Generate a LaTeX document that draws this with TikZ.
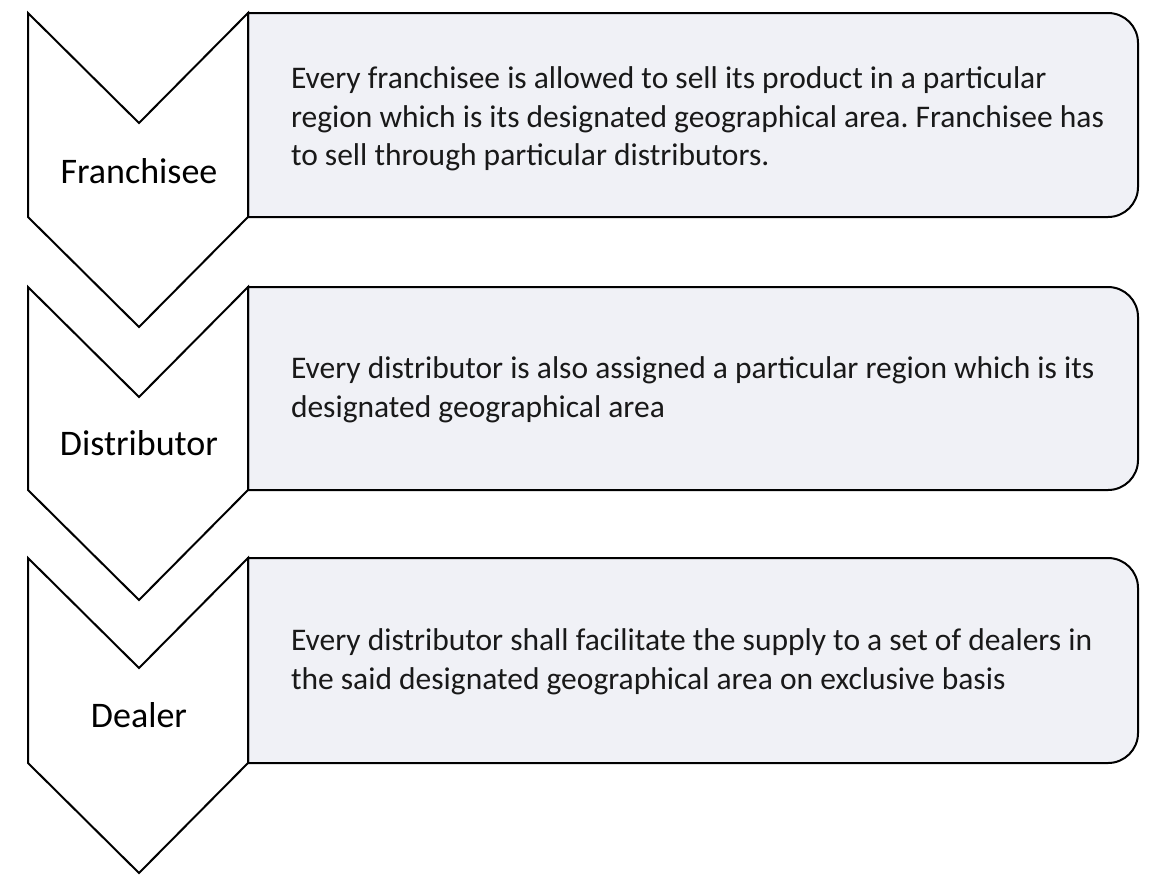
\documentclass[tikz,border=0pt]{standalone}
\usepackage{fontspec}
\setmainfont{Carlito}
\frenchspacing
\tikzset{every picture/.style={line width=2pt}}
\tikzset{
	chevron/.style={draw={rgb, 255:red, 0; green, 0; blue, 0 }, fill=white, line join=miter},
	infobox/.style={draw={rgb, 255:red, 0; green, 0; blue, 0 }, fill={rgb, 255:red, 240; green, 241; blue, 246 }},
	steplabel/.style={font=\fontsize{36}{42}\selectfont, text={rgb, 255:red, 0; green, 0; blue, 0 }},
	infotext/.style={font=\fontsize{31.5}{38.5}\selectfont, align=left, anchor=west, inner sep=0pt, text={rgb, 255:red, 25; green, 25; blue, 25 }}}

\begin{document}
\begin{tikzpicture}[x=1pt,y=1pt,yscale=-1,xscale=1]
	\useasboundingbox (0,0) rectangle (1153,879);

	%Shape: Box [Franchisee]
	\draw [infobox] (248,13) -- (1108,13) .. controls (1124.6,13) and (1138,26.4) .. (1138,43) -- (1138,187) .. controls (1138,203.6) and (1124.6,217) .. (1108,217) -- (248,217) -- cycle ;
	%Shape: Chevron [Franchisee]
	\draw [chevron] (28,13) -- (139,123) -- (248,13) -- (248,217) -- (139,327) -- (28,217) -- cycle ;

	%Shape: Box [Distributor]
	\draw [infobox] (248,287) -- (1108,287) .. controls (1124.6,287) and (1138,300.4) .. (1138,317) -- (1138,460) .. controls (1138,476.6) and (1124.6,490) .. (1108,490) -- (248,490) -- cycle ;
	%Shape: Chevron [Distributor]
	\draw [chevron] (28,287) -- (139,397) -- (248,287) -- (248,490) -- (139,600) -- (28,490) -- cycle ;

	%Shape: Box [Dealer]
	\draw [infobox] (248,558) -- (1108,558) .. controls (1124.6,558) and (1138,571.4) .. (1138,588) -- (1138,733) .. controls (1138,749.6) and (1124.6,763) .. (1108,763) -- (248,763) -- cycle ;
	%Shape: Chevron [Dealer]
	\draw [chevron] (28,558) -- (139,668) -- (248,558) -- (248,763) -- (139,873) -- (28,763) -- cycle ;

	% Text Node
	\draw (139,171) node [steplabel] (franchisee) {Franchisee};
	% Text Node
	\draw (139,443) node [steplabel] (distributor) {Distributor};
	% Text Node
	\draw (139,715) node [steplabel] (dealer) {Dealer};
	% Text Node
	\draw (290,119) node [infotext] (franchiseetext) {Every franchisee is allowed to sell its product in a particular\\region which is its designated geographical area. Franchisee has\\to sell through particular distributors.};
	% Text Node
	\draw (290,390) node [infotext] (distributortext) {Every distributor is also assigned a particular region which is its\\designated geographical area};
	% Text Node
	\draw (290,662) node [infotext] (dealertext) {Every distributor shall facilitate the supply to a set of dealers in\\the said designated geographical area on exclusive basis};

\end{tikzpicture}
\end{document}
